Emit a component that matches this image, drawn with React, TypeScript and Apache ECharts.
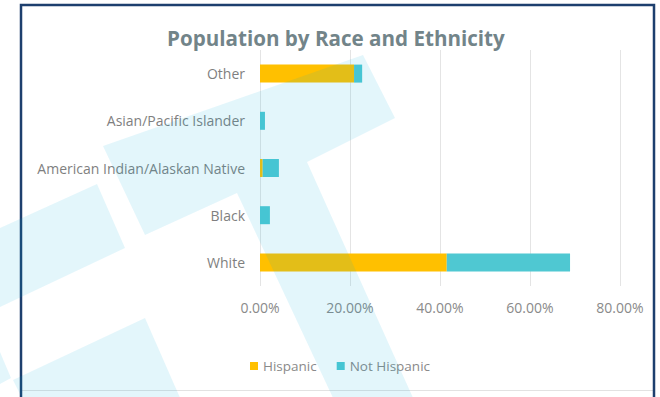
import React, { useEffect, useRef } from "react";
import * as echarts from "echarts";

const categories = ["White", "Black", "American Indian/Alaskan Native", "Asian/Pacific Islander", "Other"];
const hispanic = [41.5, 0, 0.6, 0, 20.9];
const notHispanic = [27.4, 2.2, 3.6, 1.1, 1.8];
const xTicks = [0, 20, 40, 60, 80];

const FONT = "'Open Sans', 'Noto Sans', sans-serif";
const WM = "rgba(0,170,220,0.11)";

export default function App() {
  const ref = useRef<HTMLDivElement>(null);
  useEffect(() => {
    const chart = echarts.init(ref.current!, null, { renderer: "svg" });
    chart.setOption({
      animation: false,
      backgroundColor: "#ffffff",
      title: {
        text: "Population by Race and Ethnicity",
        left: 162,
        top: 22,
        textStyle: { color: "#728489", fontSize: 20.6, fontWeight: "bold", fontFamily: FONT },
      },
      legend: {
        left: 245,
        top: 354,
        icon: "rect",
        itemWidth: 8,
        itemHeight: 8,
        itemGap: 20,
        textStyle: { color: "#8a8a8a", fontSize: 13.5, fontFamily: FONT },
        data: ["Hispanic", "Not Hispanic"],
      },
      grid: { left: 260, right: 40, top: 50, bottom: 111, containLabel: false },
      xAxis: {
        type: "value",
        min: xTicks[0],
        max: xTicks[xTicks.length - 1],
        interval: 20,
        axisLine: { show: false },
        axisTick: { show: false },
        splitLine: { show: true, lineStyle: { color: "#e4e4e4", width: 1 } },
        axisLabel: {
          color: "#8a8a8a",
          fontSize: 14,
          fontFamily: FONT,
          margin: 14,
          formatter: (v: number) => v.toFixed(2) + "%",
        },
      },
      yAxis: {
        type: "category",
        data: categories,
        axisLine: { show: false },
        axisTick: { show: false },
        axisLabel: { color: "#7f7f7f", fontSize: 14, fontFamily: FONT, margin: 15 },
      },
      series: [
        {
          name: "Hispanic",
          type: "bar",
          stack: "total",
          barWidth: 18,
          itemStyle: { color: "#FFC000" },
          data: hispanic,
        },
        {
          name: "Not Hispanic",
          type: "bar",
          stack: "total",
          barWidth: 18,
          itemStyle: { color: "#4FC8D2" },
          data: notHispanic,
        },
      ],
      graphic: [
        {
          type: "line",
          z: 50,
          silent: true,
          shape: { x1: 22, y1: 390.5, x2: 653, y2: 390.5 },
          style: { stroke: "#e2e2e2", lineWidth: 1 },
        },
        {
          type: "rect",
          z: 60,
          silent: true,
          shape: { x: 21, y: 5, width: 633, height: 420 },
          style: { fill: "none", stroke: "#1d3f6e", lineWidth: 2.5 },
        },
        {
          type: "polygon",
          z: 100,
          silent: true,
          shape: { points: [[363, 55], [395, 118], [307, 162], [414, 400], [334, 400], [237, 193], [145, 235], [103, 146]] },
          style: { fill: WM },
        },
        {
          type: "polygon",
          z: 100,
          silent: true,
          shape: { points: [[97, 184], [125, 248], [0, 307], [0, 228]] },
          style: { fill: WM },
        },
        {
          type: "polygon",
          z: 100,
          silent: true,
          shape: { points: [[145, 318], [181, 400], [23, 400], [13, 380]] },
          style: { fill: WM },
        },
        {
          type: "polygon",
          z: 100,
          silent: true,
          shape: { points: [[0, 352], [11, 378], [0, 384]] },
          style: { fill: WM },
        },
      ],
    });
    return () => chart.dispose();
  }, []);
  return <div ref={ref} style={{ position: "fixed", left: 0, top: 0, width: 660, height: 397 }} />;
}
